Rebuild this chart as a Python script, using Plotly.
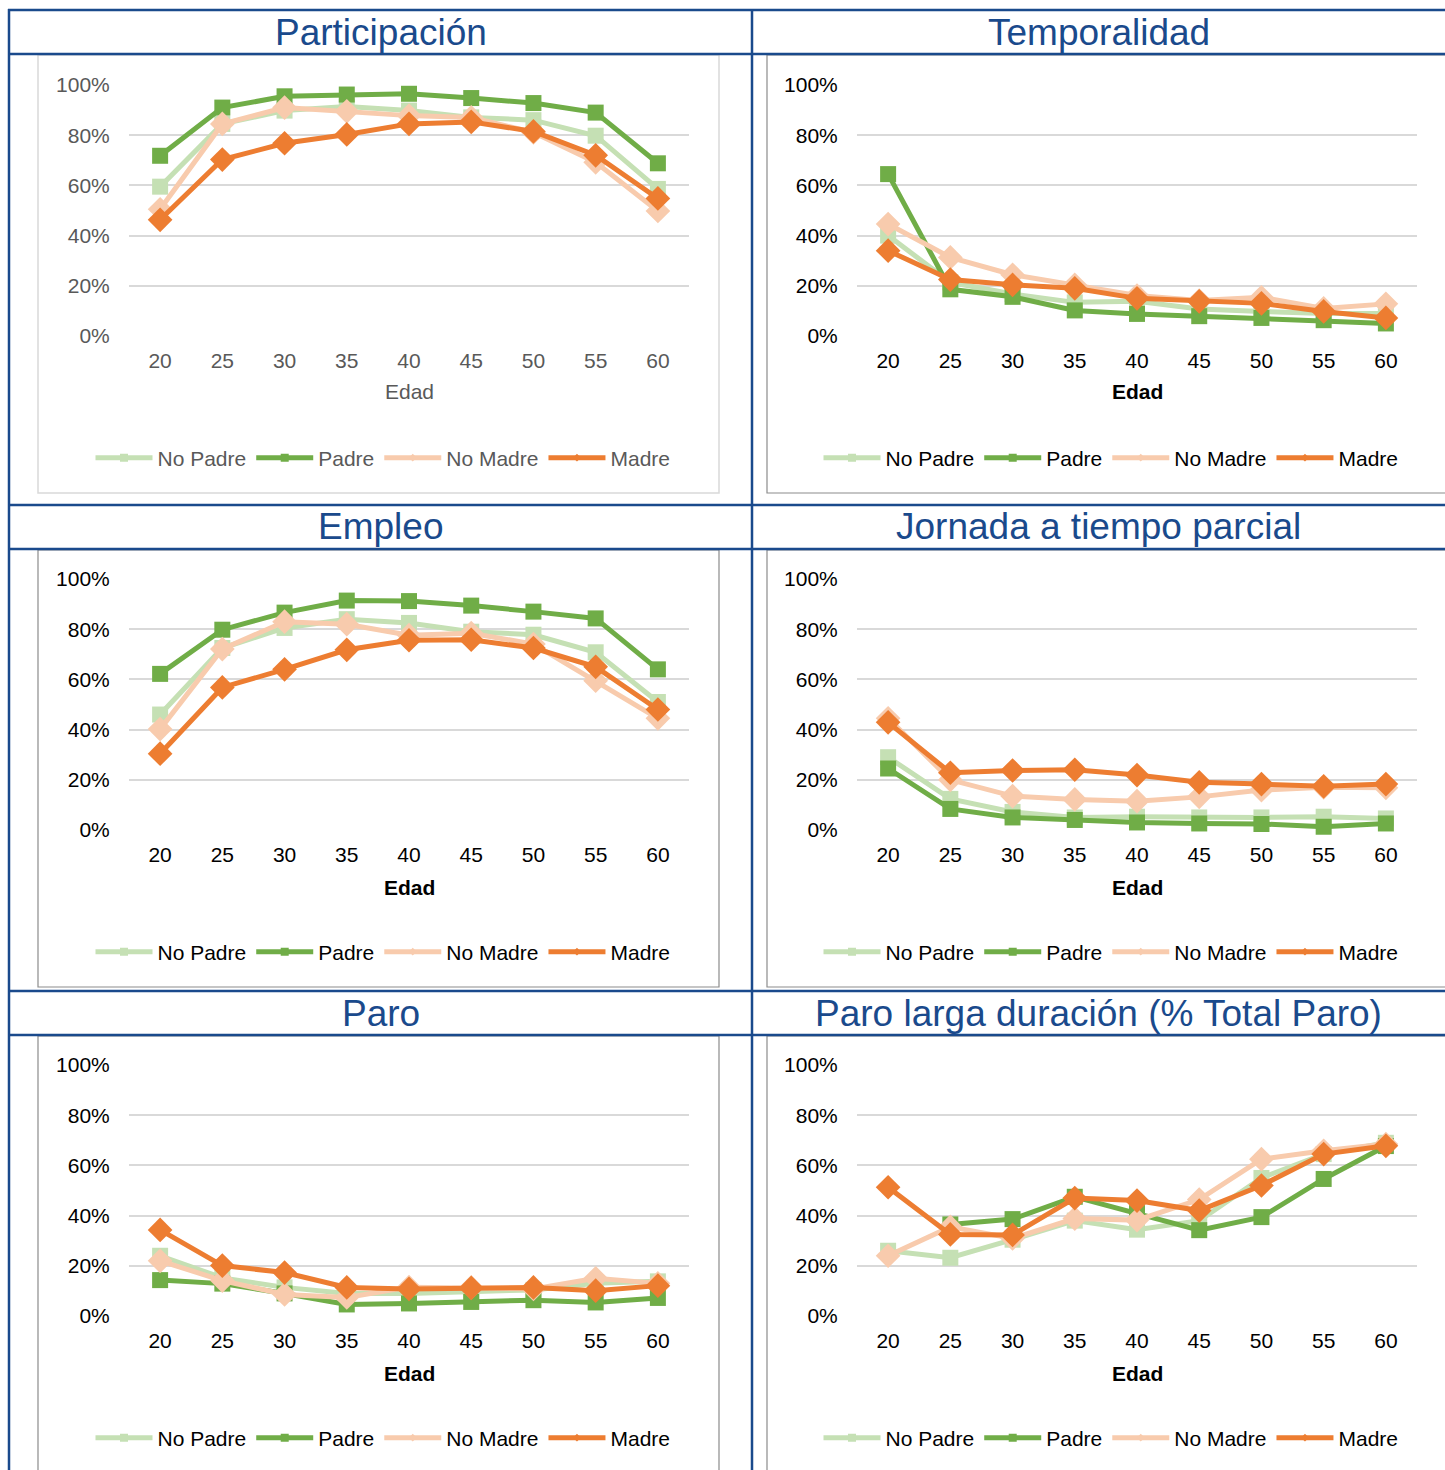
import plotly.graph_objects as go

# ---- data (percent) ----
edad = [20, 25, 30, 35, 40, 45, 50, 55, 60]
series_names = ["No Padre", "Padre", "No Madre", "Madre"]

participacion_no_padre = [59.5, 84.5, 89.8, 91.4, 89.8, 87.1, 86.0, 79.8, 58.6]
participacion_padre = [71.8, 91.0, 95.5, 96.2, 96.5, 94.8, 92.8, 89.0, 68.8]
participacion_no_madre = [50.5, 84.5, 91.0, 89.5, 87.8, 87.1, 81.1, 69.2, 49.8]
participacion_madre = [46.3, 70.3, 76.8, 80.3, 84.5, 85.3, 81.5, 72.0, 54.8]

temporalidad_no_padre = [40.0, 21.4, 16.7, 13.4, 13.8, 10.8, 9.8, 9.0, 9.0]
temporalidad_padre = [64.5, 18.6, 15.6, 10.2, 8.8, 7.9, 7.2, 6.3, 5.0]
temporalidad_no_madre = [44.6, 31.3, 24.4, 20.4, 16.1, 14.1, 15.4, 11.0, 12.8]
temporalidad_madre = [34.0, 22.5, 20.4, 19.0, 15.0, 13.8, 13.0, 9.8, 7.2]

empleo_no_padre = [46.0, 72.5, 80.5, 84.0, 82.5, 79.0, 77.8, 70.8, 51.0]
empleo_padre = [62.2, 79.8, 86.6, 91.4, 91.2, 89.4, 87.0, 84.3, 64.0]
empleo_no_madre = [40.2, 72.1, 83.0, 82.0, 77.6, 78.4, 74.1, 59.5, 44.5]
empleo_madre = [30.4, 56.8, 64.0, 71.8, 75.6, 75.8, 72.5, 65.0, 48.0]

parcial_no_padre = [29.0, 12.4, 7.2, 5.0, 5.3, 5.0, 5.0, 5.3, 4.6]
parcial_padre = [24.5, 8.4, 5.0, 4.0, 3.0, 2.6, 2.4, 1.3, 2.6]
parcial_no_madre = [44.5, 20.0, 13.5, 12.2, 11.5, 13.2, 15.9, 17.0, 16.8]
parcial_madre = [42.9, 22.8, 23.7, 24.0, 21.9, 19.0, 18.3, 17.4, 18.3]

paro_no_padre = [24.0, 15.2, 11.4, 9.0, 9.0, 9.8, 10.4, 13.0, 13.8]
paro_padre = [14.3, 12.9, 9.0, 4.6, 5.0, 5.6, 6.3, 5.4, 7.2]
paro_no_madre = [22.0, 14.1, 8.6, 7.4, 11.5, 11.4, 10.8, 15.0, 13.0]
paro_madre = [34.3, 20.1, 17.3, 11.4, 10.8, 11.2, 11.4, 10.1, 12.1]

paro_ld_no_padre = [26.0, 23.2, 30.4, 38.0, 34.4, 38.0, 55.0, 64.5, 69.0]
paro_ld_padre = [None, 36.5, 38.6, 47.5, 41.0, 34.2, 39.4, 54.6, 67.7]
paro_ld_no_madre = [24.0, 35.5, 30.9, 38.8, 38.2, 46.4, 62.5, 65.8, 68.5]
paro_ld_madre = [51.3, 32.5, 32.3, 47.0, 46.0, 42.0, 52.0, 64.5, 67.8]

panel_titles = ["Participación", "Temporalidad", "Empleo",
                "Jornada a tiempo parcial", "Paro",
                "Paro larga duración (% Total Paro)"]
panel_series = [
    [participacion_no_padre, participacion_padre, participacion_no_madre, participacion_madre],
    [temporalidad_no_padre, temporalidad_padre, temporalidad_no_madre, temporalidad_madre],
    [empleo_no_padre, empleo_padre, empleo_no_madre, empleo_madre],
    [parcial_no_padre, parcial_padre, parcial_no_madre, parcial_madre],
    [paro_no_padre, paro_padre, paro_no_madre, paro_madre],
    [paro_ld_no_padre, paro_ld_padre, paro_ld_no_madre, paro_ld_madre],
]
y_ticks = [0, 20, 40, 60, 80, 100]
x_title = "Edad"

# ---- styling ----
W, H = 1445, 1470
FONT = "Liberation Sans, Arial, sans-serif"
BLUE = "#1A4A8C"
COLORS = ["#C5E0B4", "#70AD47", "#F8CBAD", "#ED7D31"]
SYMBOLS = ["square", "square", "diamond", "diamond"]
MSIZE = [16, 16, 19, 19]
GRID = "#D9D9D9"
TXT = 21

COLS = [(129, 689), (857, 1417)]          # plot-area left/right in px
ROWS = [(85, 336), (579, 830), (1065, 1316)]  # 100% / 0% gridline in px
TITLE_ROWS = [(10, 54), (505, 549), (991, 1035)]
LEGEND_Y = [458, 952, 1438]
LEGEND_X = [383, 1111]
XTITLE_Y = [392, 887, 1373]


def fx(px):
    return px / W


def fy(py):
    return 1 - py / H


fig = go.Figure()
layout = dict(
    width=W, height=H, autosize=False,
    margin=dict(l=0, r=0, t=0, b=0, autoexpand=False),
    paper_bgcolor="white", plot_bgcolor="white",
    font=dict(family=FONT, size=TXT, color="#000000"),
    shapes=[], annotations=[],
)

for i in range(6):
    r, c = divmod(i, 2)
    first = i == 0
    sfx = "" if i == 0 else str(i + 1)
    ax_x, ax_y = "x" + sfx, "y" + sfx
    text_col = "#595959" if first else "#000000"
    leg_name = "legend" + sfx

    for k in range(4):
        fig.add_trace(go.Scatter(
            x=edad, y=panel_series[i][k], name=series_names[k],
            mode="lines+markers", xaxis=ax_x, yaxis=ax_y,
            line=dict(color=COLORS[k], width=5),
            marker=dict(symbol=SYMBOLS[k], size=MSIZE[k], color=COLORS[k]),
            cliponaxis=False, showlegend=False, connectgaps=False,
        ))
    # legend entries with small markers
    for k in range(4):
        fig.add_trace(go.Scatter(
            x=[None], y=[None], name=series_names[k], mode="lines+markers",
            xaxis=ax_x, yaxis=ax_y, legend=leg_name,
            line=dict(color=COLORS[k], width=5),
            marker=dict(symbol="square" if k < 2 else "diamond",
                        size=8 if k < 2 else 6, color=COLORS[k]),
        ))

    x0, x1 = COLS[c]
    ytop, ybot = ROWS[r]
    layout["xaxis" + sfx] = dict(
        domain=[fx(x0), fx(x1)], anchor=ax_y, range=[17.5, 62.5],
        tickmode="array", tickvals=edad, ticktext=[str(v) for v in edad],
        showgrid=False, zeroline=False, showline=False,
        ticks="outside", ticklen=6, tickcolor="rgba(0,0,0,0)",
        tickfont=dict(size=TXT, color=text_col, family=FONT),
        fixedrange=True,
    )
    layout["yaxis" + sfx] = dict(
        domain=[fy(ybot), fy(ytop)], anchor=ax_x, range=[0, 100],
        tickmode="array", tickvals=y_ticks, ticktext=[f"{v}%" for v in y_ticks],
        showgrid=True, gridcolor=GRID, gridwidth=2, zeroline=False, showline=False,
        ticks="outside", ticklen=14, tickcolor="rgba(0,0,0,0)",
        tickfont=dict(size=TXT, color=text_col, family=FONT),
        fixedrange=True,
    )
    layout[leg_name] = dict(
        orientation="h", x=fx(LEGEND_X[c]), y=fy(LEGEND_Y[r]),
        xanchor="center", yanchor="middle", bgcolor="rgba(0,0,0,0)",
        font=dict(size=TXT, color=text_col, family=FONT),
        itemwidth=57, traceorder="normal",
    )

    # x-axis title
    layout["annotations"].append(dict(
        text=x_title if first else f"<b>{x_title}</b>",
        xref="paper", yref="paper", x=fx((x0 + x1) / 2), y=fy(XTITLE_Y[r]),
        xanchor="center", yanchor="middle", showarrow=False,
        font=dict(size=TXT, color=text_col, family=FONT),
    ))

    # panel title
    tx = (9 + 752) / 2 if c == 0 else (752 + 1445) / 2
    ty = sum(TITLE_ROWS[r]) / 2
    layout["annotations"].append(dict(
        text=panel_titles[i], xref="paper", yref="paper",
        x=fx(tx), y=fy(ty), xanchor="center", yanchor="middle",
        showarrow=False, font=dict(size=37, color=BLUE, family=FONT),
    ))

    # chart frame
    bx0 = 38 if c == 0 else 767
    bx1 = 719 if c == 0 else 1460
    by0 = TITLE_ROWS[r][1] + 1
    by1 = [493, 987, 1490][r]
    layout["shapes"].append(dict(
        type="rect", xref="paper", yref="paper", layer="below",
        x0=fx(bx0), x1=fx(bx1), y0=fy(by1), y1=fy(by0),
        line=dict(color="#D9D9D9" if first else "#8C8C8C", width=1.5 if first else 1.2),
        fillcolor="rgba(0,0,0,0)",
    ))

# table grid lines
for yy in [10, 54, 505, 549, 991, 1035]:
    layout["shapes"].append(dict(
        type="line", xref="paper", yref="paper", x0=fx(8), x1=fx(1445),
        y0=fy(yy), y1=fy(yy), line=dict(color=BLUE, width=2.5), layer="above"))
for xx in [9, 752]:
    layout["shapes"].append(dict(
        type="line", xref="paper", yref="paper", x0=fx(xx), x1=fx(xx),
        y0=fy(9), y1=fy(1470), line=dict(color=BLUE, width=2.5), layer="above"))

fig.update_layout(**layout)
fig.write_html("out.html")
